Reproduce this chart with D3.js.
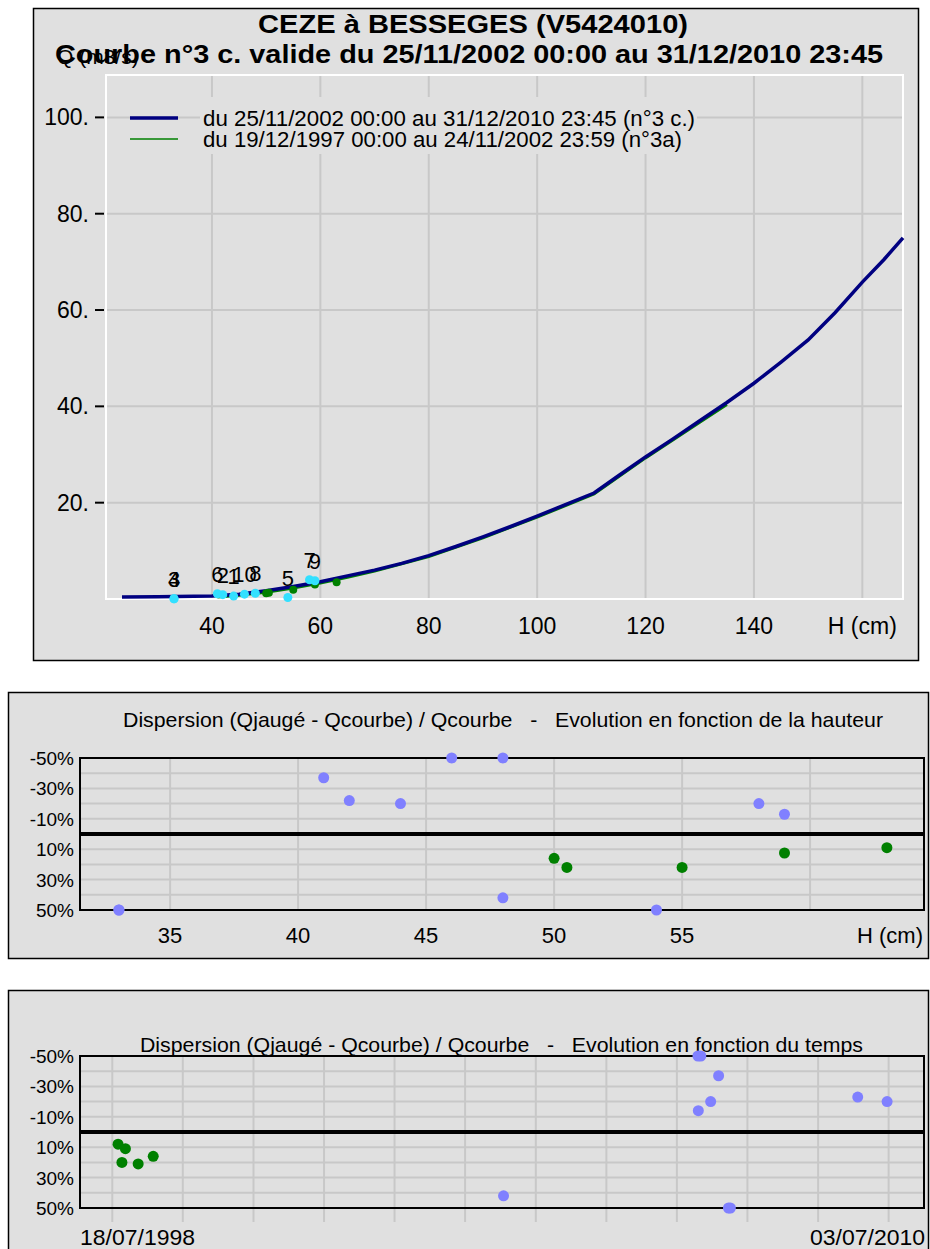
<!DOCTYPE html>
<html>
<head>
<meta charset="utf-8">
<script src="https://cdn.jsdelivr.net/npm/d3@7"></script>
<style>
  body { margin: 0; background: #ffffff; }
  svg text { font-family: "Liberation Sans", Arial, sans-serif; fill: #000; }
</style>
</head>
<body>
<svg id="chart" width="930" height="1249"></svg>
<script>
// ---- Rating curve n°3 c. (H in cm, Q in m3/s) ----
const curveH = [23.4, 30, 40, 45, 50, 55, 60, 65, 70, 75, 80, 85, 90, 95, 100, 105, 110.5, 115, 120, 125, 130, 135, 140, 145, 150, 155, 160, 164, 167.5];
const curveQ = [0.4, 0.45, 0.6, 1.0, 1.7, 2.6, 3.6, 4.8, 6.0, 7.4, 9.0, 10.9, 12.9, 15.0, 17.2, 19.5, 22.0, 25.6, 29.5, 33.2, 37.0, 40.8, 44.8, 49.2, 53.8, 59.5, 65.8, 70.5, 75.0];

// ---- Previous curve n°3a ----
const oldCurveH = [41, 45, 50, 55, 60, 65, 70, 80, 90, 100, 110.5, 120, 130, 135];
const oldCurveQ = [0.4, 0.8, 1.4, 2.3, 3.3, 4.5, 5.8, 8.8, 12.7, 17.0, 21.8, 29.3, 36.7, 40.4];

// ---- Gaugings attached to curve n°3 c. ----
const gaugeLabel = ["1", "2", "3", "4", "5", "6", "7", "8", "9", "10"];
const gaugeH = [44, 42, 33, 33, 54, 41, 58, 48, 59, 46];
const gaugeQ = [0.6, 0.9, 0.05, 0.05, 0.3, 1.1, 4.0, 1.2, 3.8, 1.0];

// ---- Gaugings of the previous curve ----
const oldGaugeH = [50, 50.5, 55, 59, 63];
const oldGaugeQ = [1.2, 1.3, 1.9, 3.0, 3.5];

// ---- Dispersion versus height (%) ----
const dispHCur = [33, 33, 41, 42, 44, 46, 48, 48, 54, 58, 59];
const dispCur = [50, 50, -37, -22, -20, -50, -50, 42, 50, -20, -13];
const dispHOld = [50, 50.5, 55, 59, 63];
const dispOld = [16, 22, 22, 12.5, 9];

// ---- Dispersion versus time (%) ----
const dateCur = ["2004-07-18", "2007-04-20", "2007-05-05", "2007-04-22", "2007-06-25", "2007-08-05", "2007-09-25", "2007-10-05", "2009-07-25", "2009-12-24"];
const timeDispCur = [42, -50, -50, -14, -20, -37, 50, 50, -23, -20];
const dateOld = ["1999-01-31", "1999-02-20", "1999-03-10", "1999-05-15", "1999-08-01"];
const timeDispOld = [8, 20, 11, 21, 16];

// ---- Axis ticks and labels ----
const mainXTicks = [40, 60, 80, 100, 120, 140];
const mainXGrid = [40, 60, 80, 100, 120, 140, 160];
const mainYTicks = [20, 40, 60, 80, 100];
const dispTicks = [-50, -30, -10, 10, 30, 50];
const dispGrid = [-40, -30, -20, -10, 10, 20, 30, 40];
const dispHTicks = [35, 40, 45, 50, 55];
const dispHGrid = [35, 40, 45, 50, 55, 60];
const timeStart = "1998-07-18", timeEnd = "2010-07-03";

const titleLine1 = "CEZE à BESSEGES (V5424010)";
const titleLine2 = "Courbe n°3 c. valide du 25/11/2002 00:00 au 31/12/2010 23:45";
const legendLabels = ["du 25/11/2002 00:00 au 31/12/2010 23:45 (n°3 c.)", "du 19/12/1997 00:00 au 24/11/2002 23:59 (n°3a)"];
const NB = "\u00a0";
const dispTitleH = "Dispersion (Qjaugé - Qcourbe) / Qcourbe" + NB + NB + NB + "-" + NB + NB + NB + "Evolution en fonction de la hauteur";
const dispTitleT = "Dispersion (Qjaugé - Qcourbe) / Qcourbe" + NB + NB + NB + "-" + NB + NB + NB + "Evolution en fonction du temps";

const BG = "#e0e0e0", GRID = "#c8c8c8";
const NAVY = "#000080", GREEN = "#008000", CYAN = "#33e0ff", LILAC = "#8080ff";

const svg = d3.select("#chart");
const parse = d3.timeParse("%Y-%m-%d");

// =============== Panel 1 : rating curve ===============
svg.append("rect").attr("x", 33.5).attr("y", 8.5).attr("width", 885).attr("height", 652)
  .attr("fill", BG).attr("stroke", "#000").attr("stroke-width", 1.5);

const p1 = { left: 106, right: 903, top: 75, bottom: 599 };
const x1 = d3.scaleLinear().domain([20.45, 167.5]).range([p1.left, p1.right]);
const y1 = d3.scaleLinear().domain([0, 108.8]).range([p1.bottom, p1.top]);

const g1 = svg.append("g");
g1.selectAll(".vg").data(mainXGrid).join("line")
  .attr("x1", d => x1(d)).attr("x2", d => x1(d)).attr("y1", p1.top).attr("y2", p1.bottom)
  .attr("stroke", GRID).attr("stroke-width", 2);
g1.selectAll(".hg").data(mainYTicks).join("line")
  .attr("x1", p1.left).attr("x2", p1.right).attr("y1", d => y1(d)).attr("y2", d => y1(d))
  .attr("stroke", GRID).attr("stroke-width", 2);

// white inset frame of the plotting area
g1.append("rect").attr("x", p1.left).attr("y", p1.top)
  .attr("width", p1.right - p1.left).attr("height", p1.bottom - p1.top)
  .attr("fill", "none").attr("stroke", "#fff").attr("stroke-width", 2);

// y ticks and labels
g1.selectAll(".yt").data(mainYTicks).join("line")
  .attr("x1", 95).attr("x2", 104).attr("y1", d => y1(d)).attr("y2", d => y1(d))
  .attr("stroke", "#000").attr("stroke-width", 2);
g1.selectAll(".yl").data(mainYTicks).join("text")
  .attr("x", 89).attr("y", d => y1(d) + 8).attr("text-anchor", "end")
  .attr("font-size", 23).text(d => d + ".");

// x labels
g1.selectAll(".xl").data(mainXTicks).join("text")
  .attr("x", d => x1(d)).attr("y", 634).attr("text-anchor", "middle")
  .attr("font-size", 23).text(d => d);
g1.append("text").attr("x", x1(160)).attr("y", 634).attr("text-anchor", "middle")
  .attr("font-size", 23).text("H (cm)");

// legend (text drawn on an opaque band)
const legY = [118, 139];
const legW = [492, 479];
legendLabels.forEach((t, i) => {
  g1.append("rect").attr("x", 200).attr("y", i === 0 ? 97 : 131)
    .attr("width", legW[i] + 5).attr("height", i === 0 ? 34 : 23).attr("fill", BG);
  g1.append("line").attr("x1", 130).attr("x2", 178).attr("y1", legY[i]).attr("y2", legY[i])
    .attr("stroke", i === 0 ? NAVY : GREEN).attr("stroke-width", i === 0 ? 3.5 : 1.5);
  g1.append("text").attr("x", 203).attr("y", legY[i] + 8).attr("font-size", 22)
    .attr("textLength", legW[i]).attr("lengthAdjust", "spacingAndGlyphs").text(t);
});

// curves
const line1 = d3.line().x(d => x1(d[0])).y(d => y1(d[1]));
g1.append("path").datum(d3.zip(oldCurveH, oldCurveQ)).attr("d", line1)
  .attr("fill", "none").attr("stroke", GREEN).attr("stroke-width", 3);
g1.append("path").datum(d3.zip(curveH, curveQ)).attr("d", line1)
  .attr("fill", "none").attr("stroke", NAVY).attr("stroke-width", 3.5);

// gaugings
g1.selectAll(".og").data(d3.zip(oldGaugeH, oldGaugeQ)).join("circle")
  .attr("cx", d => x1(d[0])).attr("cy", d => y1(d[1])).attr("r", 4).attr("fill", GREEN);
g1.selectAll(".cg").data(d3.zip(gaugeH, gaugeQ)).join("circle")
  .attr("cx", d => x1(d[0])).attr("cy", d => y1(d[1])).attr("r", 4.5).attr("fill", CYAN);
g1.selectAll(".cgl").data(d3.zip(gaugeH, gaugeQ, gaugeLabel)).join("text")
  .attr("x", d => x1(d[0])).attr("y", d => y1(d[1]) - 12).attr("text-anchor", "middle")
  .attr("font-size", 22).text(d => d[2]);

// titles
svg.append("text").attr("x", 57).attr("y", 64).attr("font-size", 21).text("Q (m3/s)");
svg.append("text").attr("x", 258).attr("y", 33)
  .attr("font-size", 25).attr("font-weight", "bold")
  .attr("textLength", 430).attr("lengthAdjust", "spacingAndGlyphs").text(titleLine1);
svg.append("text").attr("x", 55).attr("y", 63)
  .attr("font-size", 25).attr("font-weight", "bold")
  .attr("textLength", 828).attr("lengthAdjust", "spacingAndGlyphs").text(titleLine2);

// =============== Dispersion panels ===============
function dispersionPanel(box, plot, xScale, yScale, title, titlePos, gridX, tickExtend) {
  const g = svg.append("g");
  g.append("rect").attr("x", box.x).attr("y", box.y).attr("width", box.w).attr("height", box.h)
    .attr("fill", BG).attr("stroke", "#000").attr("stroke-width", 1.5);
  g.append("text").attr("x", titlePos.x).attr("y", titlePos.y)
    .attr("font-size", 21).attr("textLength", titlePos.w).attr("lengthAdjust", "spacingAndGlyphs")
    .text(title);
  g.selectAll(".hg").data(dispGrid).join("line")
    .attr("x1", plot.left).attr("x2", plot.right).attr("y1", d => yScale(d)).attr("y2", d => yScale(d))
    .attr("stroke", GRID).attr("stroke-width", 2);
  g.selectAll(".vg").data(gridX).join("line")
    .attr("x1", d => xScale(d)).attr("x2", d => xScale(d))
    .attr("y1", plot.top).attr("y2", plot.bottom + tickExtend)
    .attr("stroke", GRID).attr("stroke-width", 2);
  g.append("line").attr("x1", plot.left).attr("x2", plot.right)
    .attr("y1", yScale(0)).attr("y2", yScale(0)).attr("stroke", "#000").attr("stroke-width", 4);
  g.append("rect").attr("x", plot.left).attr("y", plot.top)
    .attr("width", plot.right - plot.left).attr("height", plot.bottom - plot.top)
    .attr("fill", "none").attr("stroke", "#000").attr("stroke-width", 2);
  g.selectAll(".yl").data(dispTicks).join("text")
    .attr("x", plot.left - 6).attr("y", d => yScale(d) + 7).attr("text-anchor", "end")
    .attr("font-size", 19).text(d => d + "%");
  return g;
}

function markers(g, xs, ys, xScale, yScale, color) {
  g.selectAll(null).data(d3.zip(xs, ys)).join("circle")
    .attr("cx", d => xScale(d[0])).attr("cy", d => yScale(d[1])).attr("r", 5.5).attr("fill", color);
}

// Panel 2 : versus height
const p2 = { left: 80, right: 924, top: 758, bottom: 910 };
const x2 = d3.scaleLinear().domain([31.48, 64.45]).range([p2.left, p2.right]);
const y2 = d3.scaleLinear().domain([-50, 50]).range([p2.top, p2.bottom]);
const g2 = dispersionPanel({ x: 8.5, y: 692.5, w: 920, h: 266 }, p2, x2, y2, dispTitleH,
  { x: 123, y: 727, w: 760 }, dispHGrid, 0);
g2.selectAll(".xl").data(dispHTicks).join("text")
  .attr("x", d => x2(d)).attr("y", 943).attr("text-anchor", "middle").attr("font-size", 22).text(d => d);
g2.append("text").attr("x", 923).attr("y", 943).attr("text-anchor", "end").attr("font-size", 22).text("H (cm)");
markers(g2, dispHCur, dispCur, x2, y2, LILAC);
markers(g2, dispHOld, dispOld, x2, y2, GREEN);

// Panel 3 : versus time
const p3 = { left: 80, right: 924, top: 1056, bottom: 1208 };
const x3 = d3.scaleTime().domain([parse(timeStart), parse(timeEnd)]).range([p3.left, p3.right]);
const y3 = d3.scaleLinear().domain([-50, 50]).range([p3.top, p3.bottom]);
const yearGrid = d3.timeYear.range(d3.timeYear.ceil(parse(timeStart)), parse(timeEnd));
const g3 = dispersionPanel({ x: 8.5, y: 990.5, w: 920, h: 270 }, p3, x3, y3, dispTitleT,
  { x: 140, y: 1052, w: 723 }, yearGrid, 14);
const fmtDate = d3.timeFormat("%d/%m/%Y");
g3.append("text").attr("x", 80).attr("y", 1245).attr("font-size", 22)
  .attr("textLength", 115).attr("lengthAdjust", "spacingAndGlyphs").text(fmtDate(parse(timeStart)));
g3.append("text").attr("x", 810).attr("y", 1245).attr("font-size", 22)
  .attr("textLength", 115).attr("lengthAdjust", "spacingAndGlyphs").text(fmtDate(parse(timeEnd)));
markers(g3, dateCur.map(parse), timeDispCur, x3, y3, LILAC);
markers(g3, dateOld.map(parse), timeDispOld, x3, y3, GREEN);
</script>
</body>
</html>
